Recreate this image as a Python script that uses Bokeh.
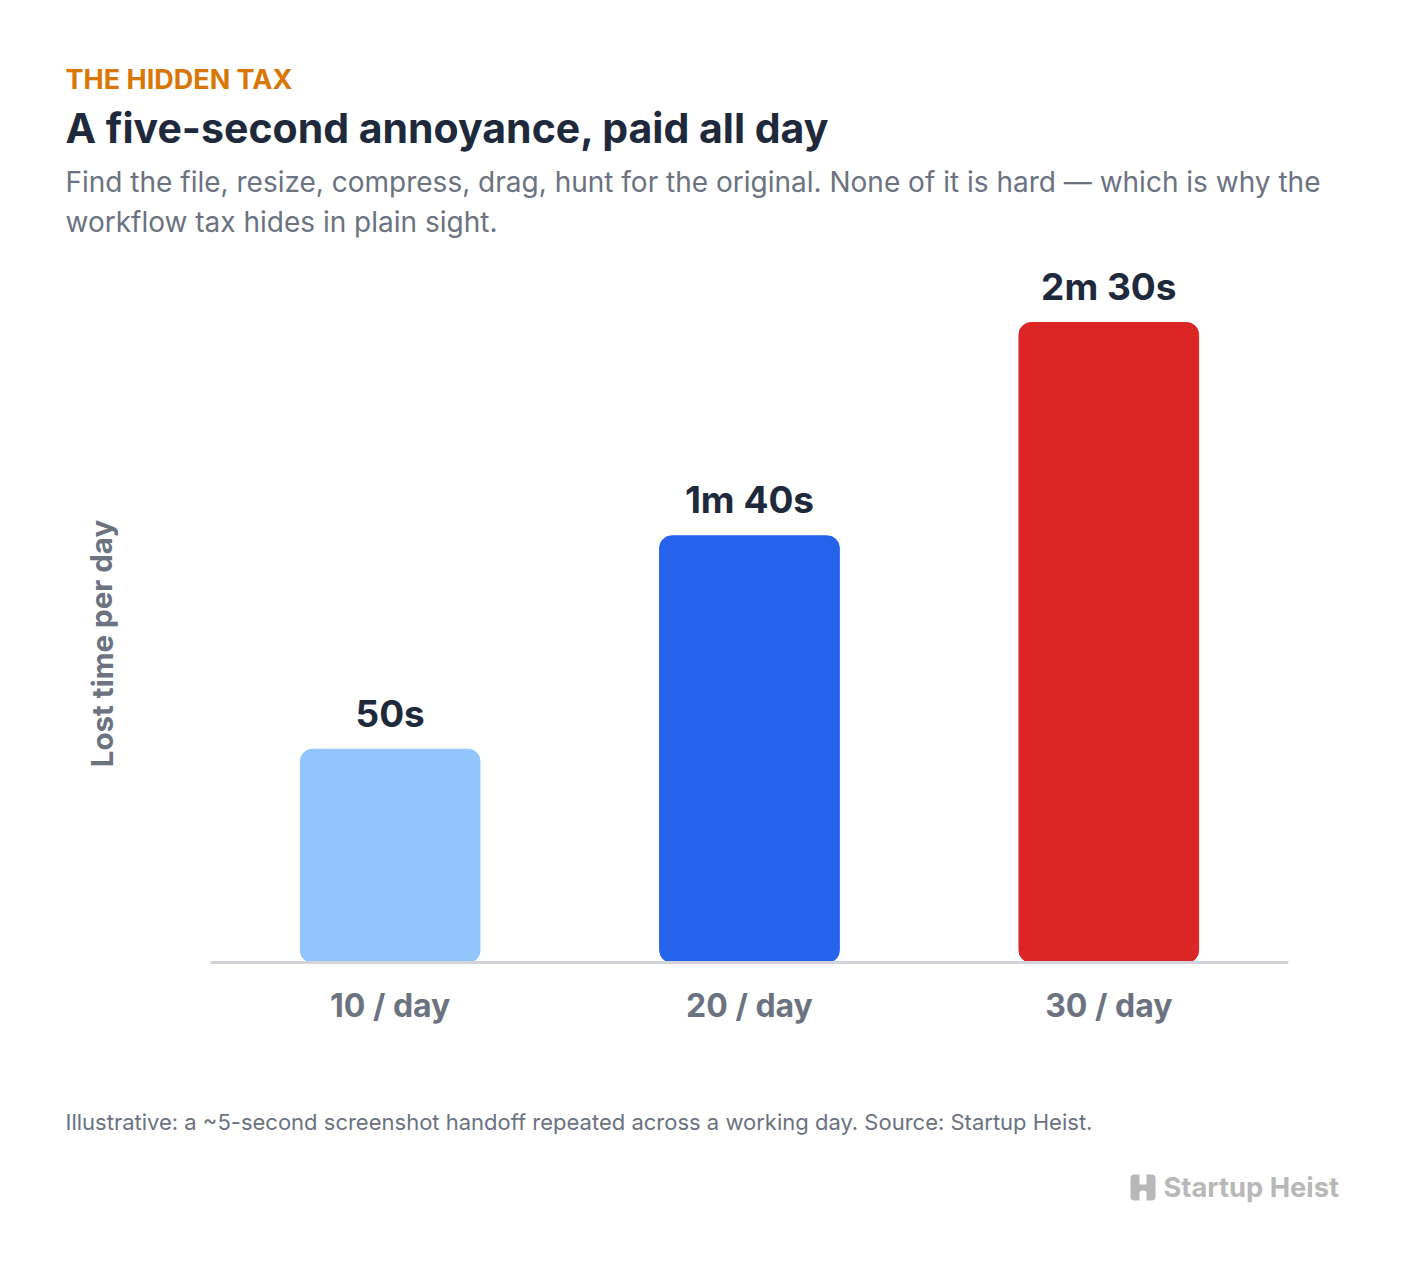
from bokeh.plotting import figure
from bokeh.models import Label, BoxAnnotation, ColumnDataSource, LinearAxis, FixedTicker, Range1d
from bokeh.embed import file_html
from bokeh.resources import INLINE
from bokeh.core.properties import value

# Chart data
categories = ["10 / day", "20 / day", "30 / day"]
seconds = [50, 100, 150]
value_labels = ["50s", "1m 40s", "2m 30s"]
bar_colors = ["#93c5fd", "#2563eb", "#dc2626"]

W, H = 1408, 1272
FONT = "Inter"
DARK = "#1e293b"
GRAY = "#6b7280"

positions = list(range(len(categories)))

# The plot frame fills the whole canvas; headings and notes sit in screen space.
p = figure(
    x_range=Range1d(-1.0844, 2.834), y_range=Range1d(-72.66, 225.47),
    width=W, height=H,
    output_backend="svg", toolbar_location=None,
    x_axis_location=None, y_axis_location=None,
    min_border=0,
)
p.outline_line_color = None
p.xgrid.grid_line_color = None
p.ygrid.grid_line_color = None
p.background_fill_color = "white"
p.border_fill_color = "white"

src = ColumnDataSource(dict(x=positions, sec=seconds, lab=value_labels, color=bar_colors))
p.vbar(x="x", top="sec", width=0.5, color="color", source=src, border_radius=12)
p.text(x="x", y="sec", text="lab", source=src, y_offset=-36,
       text_font=value(FONT), text_font_style="bold", text_font_size="37px",
       text_color=DARK, text_align="center", text_baseline="alphabetic")

# Category axis pinned to the zero line
ax = LinearAxis(fixed_location=0, ticker=FixedTicker(ticks=positions),
                major_label_overrides={i: c for i, c in zip(positions, categories)},
                bounds=(-0.5, len(categories) - 0.5))
ax.axis_line_color = "#d1d5db"
ax.axis_line_width = 3
ax.major_tick_line_color = None
ax.minor_tick_line_color = None
ax.major_label_standoff = 18
ax.major_label_text_font = FONT
ax.major_label_text_font_style = "bold"
ax.major_label_text_font_size = "32px"
ax.major_label_text_color = GRAY
p.add_layout(ax, "below")


def sy(top):
    return H - top


def label(x, y, text, size, color, bold=False, **kw):
    p.add_layout(Label(
        x=x, y=sy(y), x_units="screen", y_units="screen", text=text,
        text_font=FONT, text_font_size=size, text_color=color,
        text_font_style="bold" if bold else "normal",
        text_baseline=kw.pop("baseline", "alphabetic"), **kw))


label(65, 79, "THE HIDDEN TAX", "27px", "#d97706", bold=True)
label(65, 127, "A five-second annoyance, paid all day", "41px", DARK, bold=True)
label(65, 181, "Find the file, resize, compress, drag, hunt for the original. None of it is hard \u2014 which is why the",
      "28px", GRAY)
label(65, 221, "workflow tax hides in plain sight.", "28px", GRAY)
label(101, 643, "Lost time per day", "29.5px", GRAY, bold=True, angle=1.5708,
      text_align="center", baseline="middle")
label(65, 1121, "Illustrative: a ~5-second screenshot handoff repeated across a working day. Source: Startup Heist.",
      "22px", GRAY)
label(1163, 1187, "Startup Heist", "27.3px", "#b8b8b8", bold=True)

# Brand mark: a block "H"
LOGO = "#b8b8b8"
SCREEN = dict(left_units="screen", right_units="screen", top_units="screen", bottom_units="screen")
p.add_layout(BoxAnnotation(left=1130, right=1155, top=sy(1174), bottom=sy(1200), **SCREEN,
                           fill_color=LOGO, fill_alpha=1, line_color=None, border_radius=4))
p.add_layout(BoxAnnotation(left=1139, right=1146, top=sy(1173), bottom=sy(1184), **SCREEN,
                           fill_color="white", fill_alpha=1, line_color=None))
p.add_layout(BoxAnnotation(left=1139, right=1146, top=sy(1190), bottom=sy(1201), **SCREEN,
                           fill_color="white", fill_alpha=1, line_color=None,
                           border_radius=dict(top_left=3, top_right=3, bottom_right=0, bottom_left=0)))

open("out.html", "w").write(file_html(p, INLINE))
